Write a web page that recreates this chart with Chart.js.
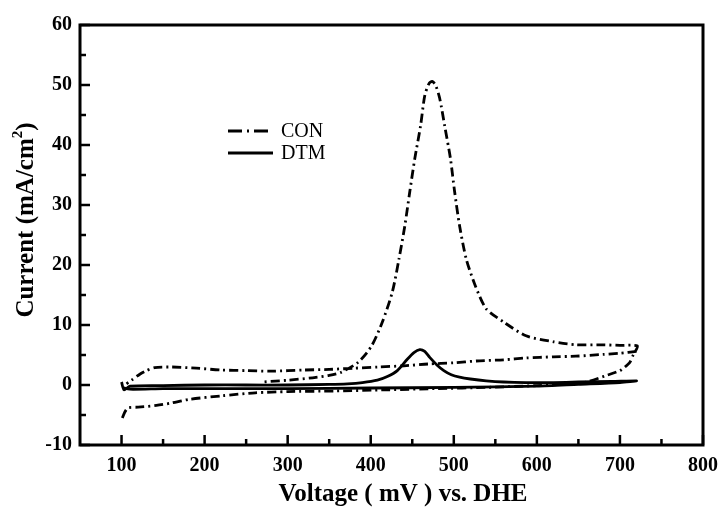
<!DOCTYPE html>
<html>
<head>
<meta charset="utf-8">
<script src="https://cdn.jsdelivr.net/npm/chart.js@4.4.1/dist/chart.umd.min.js"></script>
<style>
  html, body { margin: 0; padding: 0; background: #ffffff; }
  #wrap { width: 727px; height: 510px; }
</style>
</head>
<body>
<div id="wrap"><canvas id="c" width="727" height="510"></canvas></div>
<script>
// ---- data ----
const seriesNames = ['CON', 'DTM'];

// CON: upper (flat) branch from 720 back to 100, break, lower branch forward then peak branch backward
const conVoltage = [
  720, 700, 680, 647, 620, 587, 560, 527, 500, 469, 440, 409, 380, 350, 320, 280, 250, 220, 190, 160, 140, 130, 122, 112, 106,
  null,
  101, 104, 108, 120, 142, 160, 181, 221, 261, 300, 357, 420, 480, 540, 600, 640, 660, 682, 700, 706, 712, 716, 721,
  700, 680, 647, 620, 587, 560, 539, 526, 515, 507, 501, 496, 489, 483, 478, 474, 470, 465, 460, 453, 447, 441, 434, 426, 414, 401, 385, 364, 350, 330, 300, 270
];
const conCurrent = [
  5.6, 5.3, 5.1, 4.8, 4.7, 4.5, 4.2, 4.0, 3.7, 3.5, 3.2, 3.0, 2.8, 2.6, 2.5, 2.3, 2.4, 2.5, 2.8, 3.0, 2.9, 2.4, 1.8, 0.8, 0.2,
  null,
  -5.5, -4.5, -3.8, -3.7, -3.4, -3.0, -2.4, -1.8, -1.3, -1.1, -1.0, -0.8, -0.6, -0.4, -0.1, 0.2, 0.5, 1.5, 2.4, 3.0, 3.8, 5.0, 6.5,
  6.6, 6.7, 6.7, 7.2, 8.2, 10.5, 12.7, 16.5, 21, 26.5, 32.2, 37.7, 43.2, 47.8, 50.0, 50.6, 50.2, 48.2, 43.2, 37.7, 32.2, 26.5, 21, 15.5, 10.5, 6.5, 3.8, 2.1, 1.6, 1.2, 0.8, 0.5
];

// DTM: forward scan with small peak, then backward scan near zero
const dtmVoltage = [
  100, 103, 110, 150, 200, 250, 300, 350, 372, 390, 408, 420, 432, 444, 452, 459, 465, 471, 480, 488, 497, 507, 520, 539, 560, 587, 620, 650, 690, 720,
  700, 650, 600, 500, 400, 300, 200, 150, 110, 101
];
const dtmCurrent = [
  0.5, -0.8, -0.2, -0.1, 0.0, 0.0, 0.0, 0.1, 0.2, 0.4, 0.8, 1.4, 2.4, 4.3, 5.4, 5.9, 5.6, 4.6, 3.3, 2.4, 1.7, 1.3, 1.0, 0.7, 0.5, 0.4, 0.4, 0.5, 0.6, 0.7,
  0.4, 0.1, -0.2, -0.4, -0.5, -0.6, -0.6, -0.6, -0.7, -0.4
];

// tick labels
const xTickValues = [100, 200, 300, 400, 500, 600, 700, 800];
const xMinorValues = [150, 250, 350, 450, 550, 650, 750];
const yTickValues = [-10, 0, 10, 20, 30, 40, 50, 60];
const yMinorValues = [-5, 5, 15, 25, 35, 45, 55];
const xTitle = 'Voltage ( mV ) vs. DHE';
const yTitleMain = 'Current (mA/cm';
const yTitleSup = '2';
const yTitleEnd = ')';

// ---- build ----
function toPoints(xs, ys) {
  return xs.map((x, i) => ({ x: x, y: ys[i] }));
}

const SERIF = '"Liberation Serif", "Times New Roman", serif';

const framePlugin = {
  id: 'frameTicks',
  afterDatasetsDraw(chart) {
    const ctx = chart.ctx;
    const a = chart.chartArea;
    const xs = chart.scales.x, ys = chart.scales.y;
    ctx.save();
    ctx.strokeStyle = '#000';
    ctx.lineWidth = 2.5;
    ctx.setLineDash([]);
    ctx.beginPath();
    xTickValues.forEach(v => {
      const p = xs.getPixelForValue(v);
      ctx.moveTo(p, a.bottom); ctx.lineTo(p, a.bottom - 10);
    });
    xMinorValues.forEach(v => {
      const p = xs.getPixelForValue(v);
      ctx.moveTo(p, a.bottom); ctx.lineTo(p, a.bottom - 6);
    });
    yTickValues.forEach(v => {
      const p = ys.getPixelForValue(v);
      ctx.moveTo(a.left, p); ctx.lineTo(a.left + 10, p);
    });
    yMinorValues.forEach(v => {
      const p = ys.getPixelForValue(v);
      ctx.moveTo(a.left, p); ctx.lineTo(a.left + 6, p);
    });
    ctx.stroke();
    ctx.lineWidth = 3;
    ctx.strokeRect(a.left, a.top, a.right - a.left, a.bottom - a.top);
    ctx.restore();
  },
  afterDraw(chart) {
    const ctx = chart.ctx;
    ctx.save();
    ctx.fillStyle = '#000';
    // x axis title
    ctx.font = 'bold 25px ' + SERIF;
    ctx.textAlign = 'center';
    ctx.textBaseline = 'middle';
    ctx.fillText(xTitle, 403, 495);
    // y axis title (rotated)
    ctx.translate(27, 220);
    ctx.rotate(-Math.PI / 2);
    ctx.font = 'bold 25px ' + SERIF;
    const w1 = ctx.measureText(yTitleMain).width;
    ctx.font = 'bold 15px ' + SERIF;
    const w2 = ctx.measureText(yTitleSup).width;
    ctx.font = 'bold 25px ' + SERIF;
    const w3 = ctx.measureText(yTitleEnd).width;
    const total = w1 + w2 + w3;
    let x0 = -total / 2;
    ctx.textAlign = 'left';
    ctx.fillText(yTitleMain, x0, 0);
    ctx.font = 'bold 15px ' + SERIF;
    ctx.fillText(yTitleSup, x0 + w1, -9);
    ctx.font = 'bold 25px ' + SERIF;
    ctx.fillText(yTitleEnd, x0 + w1 + w2, 0);
    ctx.restore();

    // legend
    ctx.save();
    const rows = [131, 153];
    chart.data.datasets.forEach((ds, i) => {
      const y = rows[i];
      ctx.strokeStyle = ds.borderColor;
      ctx.lineWidth = 3;
      ctx.setLineDash(i === 0 ? [14, 5, 2, 5] : []);
      ctx.beginPath();
      ctx.moveTo(228, y); ctx.lineTo(273, y);
      ctx.stroke();
      ctx.setLineDash([]);
      ctx.fillStyle = '#000';
      ctx.font = '20px ' + SERIF;
      ctx.textAlign = 'left';
      ctx.textBaseline = 'middle';
      ctx.fillText(ds.label, 281, y + 1);
    });
    ctx.restore();
  }
};

const chart = new Chart(document.getElementById('c'), {
  type: 'scatter',
  data: {
    datasets: [
      {
        label: seriesNames[0],
        data: toPoints(conVoltage, conCurrent),
        showLine: true,
        borderColor: '#000',
        borderWidth: 2.8,
        borderDash: [9, 4, 2, 4],
        pointRadius: 0,
        tension: 0.25,
        spanGaps: false
      },
      {
        label: seriesNames[1],
        data: toPoints(dtmVoltage, dtmCurrent),
        showLine: true,
        borderColor: '#000',
        borderWidth: 2.8,
        pointRadius: 0,
        tension: 0.25
      }
    ]
  },
  options: {
    responsive: false,
    animation: false,
    devicePixelRatio: 1,
    layout: { padding: { top: 25, right: 19, bottom: 0, left: 0 } },
    plugins: {
      legend: { display: false },
      tooltip: { enabled: false }
    },
    scales: {
      x: {
        type: 'linear',
        min: 50,
        max: 800,
        afterBuildTicks: s => { s.ticks = xTickValues.map(v => ({ value: v })); },
        afterFit: s => { s.height = 65; },
        grid: { display: false, drawTicks: false },
        border: { display: false },
        ticks: {
          color: '#000',
          padding: 9,
          maxRotation: 0,
          font: { family: SERIF, size: 20, weight: 'bold' }
        }
      },
      y: {
        type: 'linear',
        min: -10,
        max: 60,
        afterBuildTicks: s => { s.ticks = yTickValues.map(v => ({ value: v })); },
        afterFit: s => { s.width = 80; },
        grid: { display: false, drawTicks: false },
        border: { display: false },
        ticks: {
          color: '#000',
          padding: 8,
          font: { family: SERIF, size: 20, weight: 'bold' }
        }
      }
    }
  },
  plugins: [framePlugin]
});
</script>
</body>
</html>
